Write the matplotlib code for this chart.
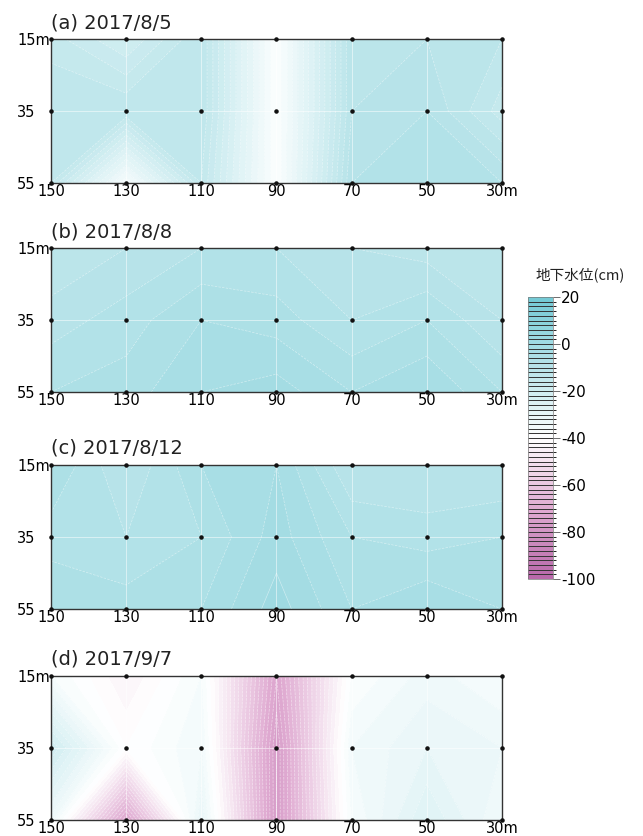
import numpy as np
import matplotlib
matplotlib.use("Agg")
import matplotlib.pyplot as plt
from matplotlib.colors import LinearSegmentedColormap, BoundaryNorm

plt.rcParams['font.family'] = ['DejaVu Sans', 'Noto Sans CJK JP']

distance = [150, 130, 110, 90, 70, 50, 30]
depth = [15, 35, 55]
x_labels = ["150", "130", "110", "90", "70", "50", "30m"]
y_labels = ["15m", "35", "55"]
titles = ["(a) 2017/8/5", "(b) 2017/8/8", "(c) 2017/8/12", "(d) 2017/9/7"]

# groundwater level (cm), rows = depth 15, 35, 55 ; columns = distance 150..30
level_a = [[-15, -20, -12, -38, -10, -10, -12],
           [-12, -12, -12, -38, -10, -8, -15],
           [-14, -36, -14, -38, -8, -6, -8]]
level_b = [[-12, -10, -8, -8, -10, -11, -12],
           [-9, -7, -4, -5, -8, -6, -10],
           [-6, -5, -2, -1, -4, -2, -6]]
level_c = [[-4, -10, -4, -2, -10, -10, -10],
           [-7, -8, -6, -1, -6, -7, -6],
           [-4, -5, -4, 1, -4, -2, -4]]
level_d = [[-36, -44, -36, -72, -38, -33, -36],
           [-20, -40, -34, -76, -34, -30, -32],
           [-33, -72, -30, -76, -36, -26, -34]]
panels = [level_a, level_b, level_c, level_d]

cbar_ticks = [20, 0, -20, -40, -60, -80, -100]
levels = np.arange(-100, 22, 2)

stops = [(-100, (185, 105, 170)), (-70, (224, 172, 210)),
         (-40, (255, 255, 255)), (20, (116, 202, 213))]
cmap = LinearSegmentedColormap.from_list(
    "gw", [((v + 100) / 120, tuple(c / 255 for c in col)) for v, col in stops])
norm = BoundaryNorm(levels, cmap.N)

fig = plt.figure(figsize=(6.43, 8.36), dpi=100)

bottoms = [0.781, 0.531, 0.2715, 0.0191]
X, Y = np.meshgrid(distance, depth)
cf = None
for vals, title, b in zip(panels, titles, bottoms):
    ax = fig.add_axes([0.0793, b, 0.7014, 0.1722])
    Z = np.array(vals, dtype=float)
    cf = ax.contourf(X, Y, Z, levels=levels, cmap=cmap, norm=norm)
    ax.contour(X, Y, Z, levels=levels, colors="white", linewidths=0.5, alpha=0.5)
    for xv in distance[1:-1]:
        ax.axvline(xv, color="white", lw=0.6, alpha=0.6)
    ax.axhline(35, color="white", lw=0.6, alpha=0.6)
    ax.scatter(X.ravel(), Y.ravel(), s=5, color="#111111", zorder=5, clip_on=False)
    ax.set_xlim(150, 30)
    ax.set_ylim(55, 15)
    ax.set_xticks(distance)
    ax.set_xticklabels(x_labels, fontsize=10.5)
    ax.set_yticks(depth)
    ax.set_yticklabels(y_labels, fontsize=10.5)
    ax.tick_params(length=0, pad=1)
    for lab in ax.get_yticklabels():
        lab.set_horizontalalignment("left")
    ax.tick_params(axis="y", pad=24.5)
    for s in ax.spines.values():
        s.set_color("#333333")
        s.set_linewidth(1.0)
    ax.set_title(title, loc="left", fontsize=14, pad=8, color="#222222")

cax = fig.add_axes([0.821, 0.3074, 0.039, 0.3373])
cb = fig.colorbar(cf, cax=cax, ticks=cbar_ticks, drawedges=True)
cb.dividers.set_color("#333333")
cb.dividers.set_linewidth(0.7)
cb.outline.set_linewidth(0.5)
cb.outline.set_edgecolor("#777777")
cb.ax.tick_params(labelsize=11, length=5, width=0.6, color="#555555", pad=1)
cb.ax.set_yticklabels([str(t) for t in cbar_ticks])
fig.text(0.902, 0.671, "地下水位(cm)", ha="center", va="center", fontsize=10.5,
         family=["Noto Sans CJK JP", "DejaVu Sans"], color="#222222")

fig.savefig("out.png", dpi=100)
